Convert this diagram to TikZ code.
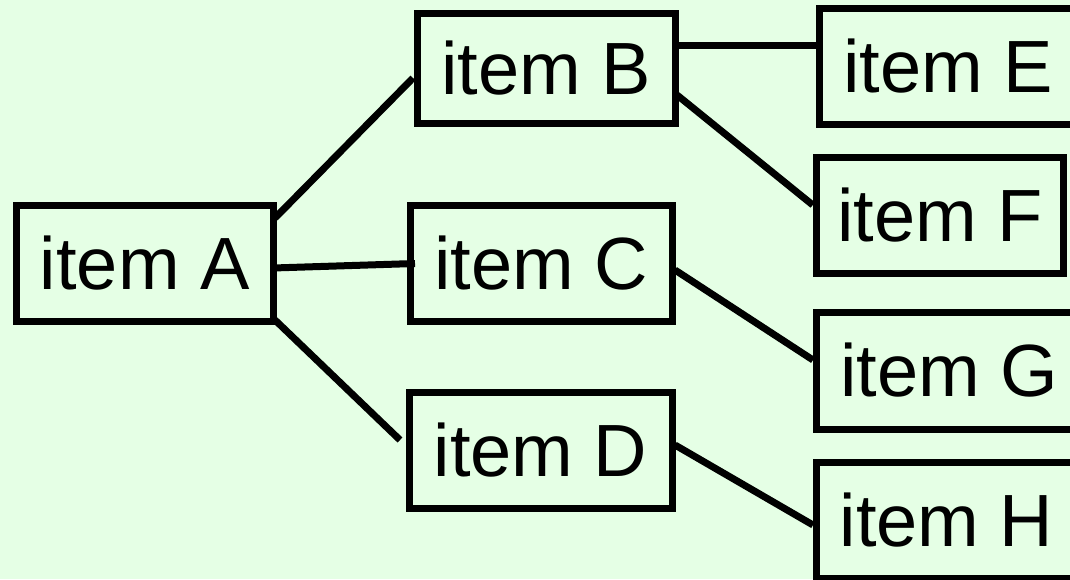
\documentclass[tikz,border=0pt]{standalone}
\usepackage{fontspec}
\setmainfont{Liberation Sans}
\usetikzlibrary{calc}
\definecolor{bgmint}{RGB}{229,255,229}

\tikzset{
	itembox/.style={draw, line width=7pt, rectangle, inner sep=0pt, outer sep=0pt,
		minimum height=116pt, font=\fontsize{74pt}{80pt}\selectfont},
	branch/.style={line width=7pt}
}

\begin{document}
\begin{tikzpicture}[x=1pt, y=-1pt]
	\path[use as bounding box, fill=bgmint] (0,0) rectangle (1070,579);
	\clip (0,0) rectangle (1070,579);

	% first column
	\node[itembox, minimum width=256.5pt] (A) at (144.75,263.5) {item A};

	% second column
	\node[itembox, minimum width=258pt, minimum height=110pt] (B) at (546,68) {item B};
	\node[itembox, minimum width=262pt] (C) at (541,263.5) {item C};
	\node[itembox, minimum width=263pt] (D) at (540.5,450.5) {item D};

	% third column
	\node[itembox, minimum width=258pt] (E) at (948,66.5) {item E};
	\node[itembox, minimum width=247.5pt] (F) at (940,215) {item F};
	\node[itembox, minimum width=266pt, minimum height=117pt] (G) at (949,370.5) {item G};
	\node[itembox, minimum width=261pt] (H) at (946.5,520) {item H};

	% branches
	\draw[branch] ($(A.north east)+(2,12.5)$) -- ($(B.west)+(-4,10)$);
	\draw[branch] ($(A.east)+(0,4.5)$) -- ($(C.west)+(5,0)$);
	\draw[branch] ($(A.south east)+(2,-1.5)$) -- ($(D.west)+(-9,-10.5)$);
	\draw[branch] ($(B.east)+(0,-23)$) -- ($(E.west)+(0,-21.5)$);
	\draw[branch] ($(B.east)+(2,27)$) -- ($(F.west)+(-3.5,-10)$);
	\draw[branch] ($(C.east)+(3,6.5)$) -- ($(G.west)+(-3,-10.5)$);
	\draw[branch] ($(D.east)+(3,-5.5)$) -- ($(H.west)+(-3,5)$);
\end{tikzpicture}
\end{document}
